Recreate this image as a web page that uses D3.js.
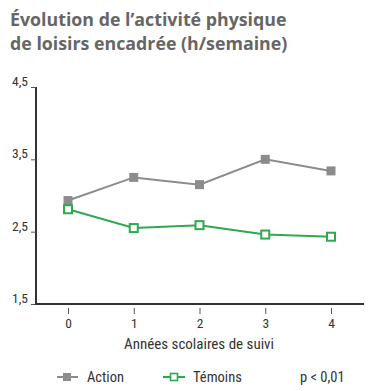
<!DOCTYPE html>
<html>
<head>
<meta charset="utf-8">
<script src="https://cdn.jsdelivr.net/npm/d3@7"></script>
<style>
  body { margin: 0; background: #fff; }
  text { font-family: "Liberation Sans Narrow", "Roboto Condensed", "DejaVu Sans Condensed", sans-serif; }
  .title { font-family: "Open Sans", "DejaVu Sans", sans-serif; font-weight: bold; fill: #666; font-size: 17.8px; }
</style>
</head>
<body>
<div id="chart"></div>
<script>
var years = [0, 1, 2, 3, 4];
var action = [2.93, 3.25, 3.15, 3.5, 3.34];
var temoins = [2.81, 2.55, 2.59, 2.46, 2.43];
var yTicks = [1.5, 2.5, 3.5, 4.5];

var width = 385, height = 391;
var svg = d3.select("#chart").append("svg")
    .attr("width", width)
    .attr("height", height);

var x = d3.scaleLinear().domain([0, 4]).range([68, 331]);
var y = d3.scaleLinear().domain([1.5, 4.5]).range([304, 87]);

svg.append("text").attr("class", "title").attr("x", 10).attr("y", 26)
    .text("Évolution de l’activité physique");
svg.append("text").attr("class", "title").attr("x", 10).attr("y", 50)
    .text("de loisirs encadrée (h/semaine)");

var fmt = function (d) { return d3.format(".1f")(d).replace(".", ","); };

// y axis
var yAxis = svg.append("g").attr("transform", "translate(36,0)")
    .call(d3.axisLeft(y).tickValues(yTicks).tickFormat(fmt).tickSize(5).tickPadding(3));
yAxis.select(".domain").attr("stroke", "#333").attr("stroke-width", 2).attr("d", "M0,87V304");
yAxis.selectAll(".tick line").attr("stroke", "#555").attr("stroke-width", 1);
yAxis.selectAll(".tick text").attr("fill", "#333").style("font-size", "13.5px").attr("dy", "-0.1em");

// x axis
var xAxis = svg.append("g").attr("transform", "translate(0,304)")
    .call(d3.axisBottom(x).tickValues(years).tickFormat(d3.format("d")).tickSize(6).tickPadding(4));
xAxis.select(".domain").attr("stroke", "#333").attr("stroke-width", 2).attr("d", "M35,0H364");
xAxis.selectAll(".tick line").attr("stroke", "#555").attr("stroke-width", 1).attr("y1", 4).attr("y2", 10);
xAxis.selectAll(".tick text").attr("fill", "#333").style("font-size", "13.5px").attr("y", 14);

svg.append("text").attr("x", 199).attr("y", 349).attr("text-anchor", "middle")
    .attr("fill", "#333").style("font-size", "15px").text("Années scolaires de suivi");

var line = d3.line()
    .x(function (d, i) { return x(years[i]); })
    .y(function (d) { return y(d); });

var grey = "#8c8c8c", green = "#2fa84f";

svg.append("path").attr("d", line(action)).attr("fill", "none")
    .attr("stroke", grey).attr("stroke-width", 2);
svg.append("path").attr("d", line(temoins)).attr("fill", "none")
    .attr("stroke", green).attr("stroke-width", 2);

svg.selectAll(".ma").data(action).enter().append("rect")
    .attr("x", function (d, i) { return x(years[i]) - 4.5; })
    .attr("y", function (d) { return y(d) - 4.5; })
    .attr("width", 9).attr("height", 9).attr("fill", grey);

svg.selectAll(".mt").data(temoins).enter().append("rect")
    .attr("x", function (d, i) { return x(years[i]) - 4; })
    .attr("y", function (d) { return y(d) - 4; })
    .attr("width", 8).attr("height", 8)
    .attr("fill", "#fff").attr("stroke", green).attr("stroke-width", 2);

// legend
var ly = 377;
svg.append("line").attr("x1", 57).attr("x2", 78).attr("y1", ly).attr("y2", ly)
    .attr("stroke", grey).attr("stroke-width", 2);
svg.append("rect").attr("x", 63).attr("y", ly - 4).attr("width", 8).attr("height", 8).attr("fill", grey);
svg.append("text").attr("x", 87).attr("y", ly + 5).attr("fill", "#333").style("font-size", "14.5px").text("Action");

svg.append("line").attr("x1", 163).attr("x2", 185).attr("y1", ly).attr("y2", ly)
    .attr("stroke", green).attr("stroke-width", 2);
svg.append("rect").attr("x", 170.5).attr("y", ly - 3.5).attr("width", 7).attr("height", 7)
    .attr("fill", "#fff").attr("stroke", green).attr("stroke-width", 1.6);
svg.append("text").attr("x", 193).attr("y", ly + 5).attr("fill", "#333").style("font-size", "14.5px").text("Témoins");

svg.append("text").attr("x", 300).attr("y", ly + 5).attr("fill", "#333").style("font-size", "14.5px").text("p < 0,01");
</script>
</body>
</html>
